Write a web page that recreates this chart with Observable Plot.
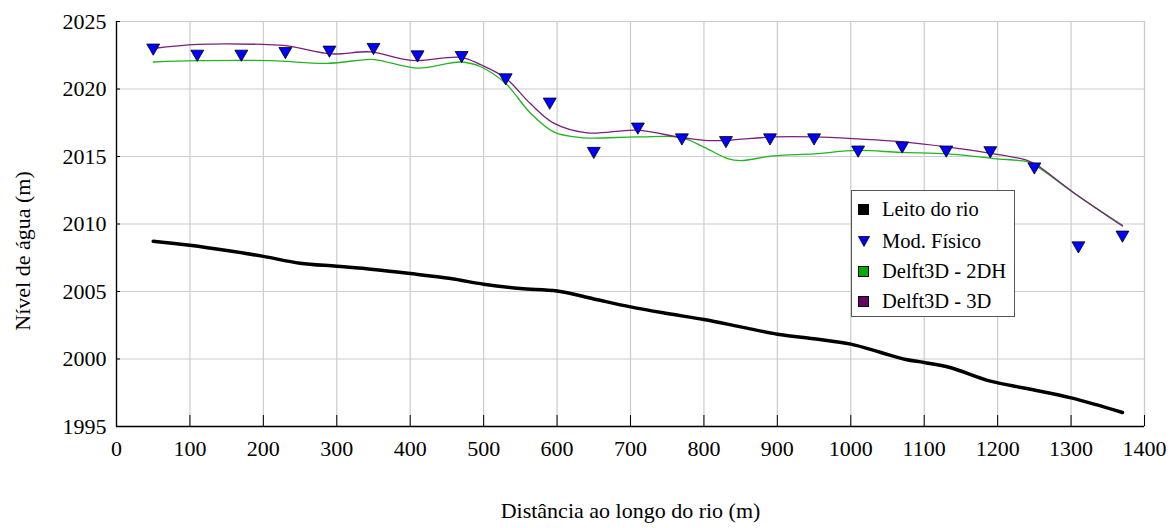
<!DOCTYPE html>
<html>
<head>
<meta charset="utf-8">
<script src="https://cdn.jsdelivr.net/npm/d3@7"></script>
<script src="https://cdn.jsdelivr.net/npm/@observablehq/plot@0.6"></script>
<style>
  body { margin: 0; background: #fff; font-family: "Liberation Serif", "Times New Roman", serif; }
  #wrap { position: relative; width: 1171px; height: 528px; }
  #legend { position: absolute; left: 851px; top: 190px; width: 164px; height: 127px; box-sizing: border-box;
            border: 1px solid #555; background: #fff; font-size: 20.5px; color: #000; }
  .item { position: absolute; left: 6px; height: 24px; display: flex; align-items: center; }
  .sw { width: 11px; height: 11px; box-sizing: border-box; border: 1px solid #000; margin-right: 13px; display: inline-block; }
</style>
</head>
<body>
<div id="wrap">
  <div id="chart"></div>
  <div id="legend"></div>
</div>
<script>
// --- Data ---
const bedX = [50,100,155,200,250,300,350,400,455,500,550,600,650,700,750,800,850,900,950,1000,1040,1075,1100,1135,1190,1240,1300,1370];
const bedY = [2008.73,2008.43,2008.0,2007.6,2007.1,2006.87,2006.63,2006.33,2005.96,2005.54,2005.22,2005.04,2004.45,2003.86,2003.37,2002.92,2002.38,2001.84,2001.5,2001.1,2000.5,1999.96,1999.74,1999.37,1998.36,1997.81,1997.12,1996.04];

const physX = [50,110,170,230,290,350,410,470,530,590,650,710,770,830,890,950,1010,1070,1130,1190,1250,1310,1370];
const physY = [2023.05,2022.6,2022.6,2022.8,2022.9,2023.1,2022.55,2022.5,2020.85,2019.05,2015.4,2017.2,2016.4,2016.2,2016.4,2016.4,2015.5,2015.8,2015.5,2015.45,2014.25,2008.4,2009.2];

const d2X = [50,110,210,287,346,360,410,469,496,530,564,596,632,709,769,800,832,850,895,950,1009,1068,1132,1195,1241,1254,1304,1370];
const d2Y = [2022.0,2022.1,2022.1,2021.9,2022.2,2022.1,2021.55,2022.0,2021.65,2020.4,2018.2,2016.8,2016.4,2016.45,2016.4,2015.7,2014.85,2014.7,2015.05,2015.2,2015.45,2015.3,2015.2,2014.85,2014.6,2014.25,2012.3,2009.9];

const d3X = [50,110,200,233,292,346,387,410,469,496,530,564,596,641,709,769,800,832,895,950,1010,1068,1132,1195,1241,1254,1304,1370];
const d3Y = [2023.0,2023.3,2023.3,2023.2,2022.6,2022.75,2022.25,2022.1,2022.35,2021.8,2020.8,2018.9,2017.45,2016.75,2016.95,2016.4,2016.2,2016.2,2016.45,2016.45,2016.3,2016.1,2015.7,2015.2,2014.7,2014.35,2012.3,2009.85];

const xTicks = [0,100,200,300,400,500,600,700,800,900,1000,1100,1200,1300,1400];
const yTicks = [1995,2000,2005,2010,2015,2020,2025];

const seriesNames = ["Leito do rio", "Mod. Físico", "Delft3D - 2DH", "Delft3D - 3D"];
const seriesColors = ["#000000", "#0000ff", "#00aa00", "#660066"];
const xLabel = "Distância ao longo do rio (m)";
const yLabel = "Nível de água (m)";

const zip = (xs, ys) => xs.map((x, i) => ({x, y: ys[i]}));
const bed = zip(bedX, bedY), phys = zip(physX, physY), d2 = zip(d2X, d2Y), d3d = zip(d3X, d3Y);

const grid = "#cccccc";
const chart = Plot.plot({
  width: 1171, height: 528,
  marginLeft: 116, marginRight: 27, marginTop: 21, marginBottom: 102,
  style: {fontFamily: "Liberation Serif, Times New Roman, serif", fontSize: "22px", color: "#000", background: "#fff"},
  x: {domain: [0, 1400], label: null},
  y: {domain: [1995, 2025], label: null},
  marks: [
    Plot.gridX(xTicks, {stroke: grid, strokeOpacity: 1, strokeWidth: 1.2}),
    Plot.gridY(yTicks, {stroke: grid, strokeOpacity: 1, strokeWidth: 1.2}),
    Plot.frame({stroke: grid, strokeWidth: 1.2}),
    Plot.tickX(xTicks, {x: d => d, insetTop: 394, stroke: "#000"}),
    Plot.tickY(yTicks, {y: d => d, insetRight: 1024, stroke: "#000"}),
    Plot.ruleX([0], {stroke: "#000", strokeWidth: 1.3}),
    Plot.ruleY([1995], {stroke: "#000", strokeWidth: 1.3}),
    Plot.axisX(xTicks, {tickSize: 0, tickPadding: 14, fontSize: 22, tickFormat: "d", label: null}),
    Plot.axisY(yTicks, {tickSize: 0, tickPadding: 10, fontSize: 22, tickFormat: "d", label: null}),
    Plot.line(bed, {x: "x", y: "y", stroke: seriesColors[0], strokeWidth: 3.5, curve: "catmull-rom"}),
    Plot.line(d2, {x: "x", y: "y", stroke: "#22b422", strokeWidth: 1.3, curve: "catmull-rom"}),
    Plot.line(d3d, {x: "x", y: "y", stroke: "#7a1f7a", strokeWidth: 1.3, curve: "catmull-rom"}),
    Plot.dot(phys, {x: "x", y: "y", symbol: "triangle", r: 4.8, rotate: 180, fill: seriesColors[1], stroke: "#000", strokeWidth: 0.8}),
    Plot.text([xLabel], {frameAnchor: "bottom", dy: 84, fontSize: 22, lineAnchor: "middle", textAnchor: "middle"}),
    Plot.text([yLabel], {frameAnchor: "left", dx: -94, dy: 27, rotate: -90, fontSize: 22, lineAnchor: "middle", textAnchor: "middle"})
  ]
});
document.getElementById("chart").appendChild(chart);

// legend (inside the plot area)
const legend = document.getElementById("legend");
const rowsTop = [6, 38, 68, 98];
seriesNames.forEach((name, i) => {
  const row = document.createElement("div");
  row.className = "item";
  row.style.top = rowsTop[i] + "px";
  if (i === 1) {
    row.innerHTML = `<svg width="12" height="11" style="margin-right:12px"><path d="M0.5,0.5 L11.5,0.5 L6,10.5 Z" fill="${seriesColors[1]}" stroke="#000" stroke-width="0.8"/></svg>`;
  } else {
    const sw = document.createElement("span");
    sw.className = "sw";
    sw.style.background = seriesColors[i];
    row.appendChild(sw);
  }
  const t = document.createElement("span");
  t.textContent = name;
  row.appendChild(t);
  legend.appendChild(row);
});
</script>
</body>
</html>
